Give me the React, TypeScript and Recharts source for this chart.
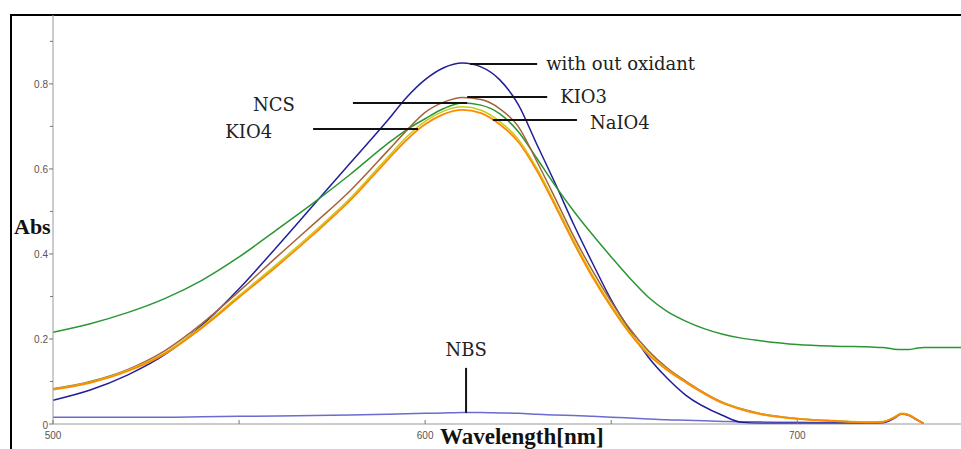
import React from "react";
import { Line, LineChart, ReferenceLine, XAxis, YAxis } from "recharts";

// wavelength grid (nm)
const wavelengths = [
  500, 510, 520, 530, 540, 550, 560, 570, 580, 590,
  595, 600, 605, 610, 615, 620, 625, 630, 635, 640,
  645, 650, 655, 660, 665, 670, 680, 685, 690, 700,
  710, 720, 723, 726, 728, 730, 732, 734, 740, 744,
];

const withoutOxidant = [
  0.056, 0.08, 0.115, 0.163, 0.232, 0.318, 0.415, 0.515, 0.615, 0.715,
  0.768, 0.81, 0.838, 0.849, 0.84, 0.81, 0.752, 0.658, 0.565, 0.468,
  0.378, 0.292, 0.22, 0.157, 0.108, 0.068, 0.02, 0.004, 0.002, 0.002,
  0.002, 0.002, 0.003, 0.014, 0.024, 0.021, 0.011, 0.001, null, null,
];

const ncs = [
  0.216, 0.236, 0.262, 0.295, 0.338, 0.393, 0.456, 0.52, 0.588, 0.66,
  0.692, 0.718, 0.742, 0.755, 0.75, 0.73, 0.688, 0.625, 0.56, 0.5,
  0.445, 0.393, 0.343, 0.298, 0.265, 0.242, 0.211, 0.202, 0.196, 0.187,
  0.183, 0.181, 0.18, 0.176, 0.175, 0.175, 0.178, 0.18, 0.18, 0.18,
];

const kio3 = [
  0.083, 0.1, 0.128, 0.172, 0.236, 0.312, 0.392, 0.47, 0.55, 0.643,
  0.69, 0.733, 0.757, 0.768, 0.763, 0.742, 0.7, 0.618, 0.53, 0.44,
  0.36, 0.288, 0.224, 0.172, 0.132, 0.101, 0.051, 0.036, 0.025, 0.013,
  0.007, 0.004, 0.005, 0.015, 0.024, 0.021, 0.011, 0.001, null, null,
];

const naio4 = [
  0.082, 0.098, 0.126, 0.167, 0.229, 0.302, 0.375, 0.451, 0.532, 0.628,
  0.675, 0.712, 0.736, 0.746, 0.738, 0.712, 0.67, 0.602, 0.518, 0.431,
  0.35, 0.28, 0.217, 0.166, 0.129, 0.099, 0.05, 0.035, 0.024, 0.013,
  0.008, 0.005, 0.006, 0.016, 0.025, 0.022, 0.012, 0.001, null, null,
];

const kio4 = [
  0.081, 0.097, 0.124, 0.165, 0.226, 0.298, 0.37, 0.446, 0.527, 0.622,
  0.668, 0.705, 0.729, 0.739, 0.731, 0.705, 0.664, 0.596, 0.512, 0.425,
  0.345, 0.275, 0.213, 0.163, 0.127, 0.098, 0.049, 0.034, 0.023, 0.012,
  0.007, 0.004, 0.005, 0.015, 0.024, 0.021, 0.011, 0.001, null, null,
];

const nbs = [
  0.016, 0.016, 0.016, 0.016, 0.017, 0.018, 0.019, 0.02, 0.021, 0.023,
  0.024, 0.025, 0.026, 0.027, 0.027, 0.026, 0.025, 0.023, 0.021, 0.02,
  0.018, 0.016, 0.014, 0.012, 0.01, 0.009, 0.006, 0.005, 0.005, 0.004,
  0.003, 0.002, 0.003, 0.013, 0.023, 0.02, 0.01, 0.001, null, null,
];

const xTicks = [500, 550, 600, 650, 700];
const xLabels = [500, 600, 700];
const yTicks = [0, 0.1, 0.2, 0.3, 0.4, 0.5, 0.6, 0.7, 0.8, 0.9];
const yLabels = [0, 0.2, 0.4, 0.6, 0.8];

// leader lines with their names
const notes = [
  { text: "with out oxidant", x1: 612.1, x2: 630.1, y1: 0.847, y2: 0.847, side: "right", gap: 9, dy: 0 },
  { text: "KIO3", x1: 611.3, x2: 632.8, y1: 0.769, y2: 0.769, side: "right", gap: 13, dy: -1 },
  { text: "NCS", x1: 580.6, x2: 611.3, y1: 0.755, y2: 0.755, side: "left", gap: 58, dy: 1 },
  { text: "KIO4", x1: 569.9, x2: 598.1, y1: 0.694, y2: 0.694, side: "left", gap: 41, dy: 3 },
  { text: "NaIO4", x1: 618.2, x2: 640.8, y1: 0.715, y2: 0.715, side: "right", gap: 13, dy: 2 },
  { text: "NBS", x1: 611.0, x2: 611.0, y1: 0.132, y2: 0.026, side: "top", gap: 18, dy: 0 },
];

const rows = wavelengths.map((wl, i) => ({
  wl,
  noOx: withoutOxidant[i],
  ncs: ncs[i],
  kio3: kio3[i],
  naio4: naio4[i],
  kio4: kio4[i],
  nbs: nbs[i],
}));

const tickFont = { fontFamily: "'Liberation Sans', Arial, sans-serif", fontSize: 10, fill: "#555" };

const XTick = ({ x, y, payload }: any) => (
  <g>
    <line x1={x} y1={y} x2={x} y2={y - 4} stroke="#777" />
    {xLabels.includes(payload.value) && (
      <text x={x} y={y + 11} textAnchor="middle" dominantBaseline="central" {...tickFont}>
        {payload.value}
      </text>
    )}
  </g>
);

const YTick = ({ x, y, payload }: any) => {
  const major = yLabels.some((v) => Math.abs(v - payload.value) < 1e-6);
  return (
    <g>
      <line x1={x - (major ? 4 : 3)} y1={y} x2={x} y2={y} stroke="#777" />
      {major && (
        <text x={x - 5} y={y + 1} textAnchor="end" dominantBaseline="central" {...tickFont}>
          {payload.value === 0 ? "0" : payload.value.toFixed(1)}
        </text>
      )}
    </g>
  );
};

const noteLabel = (n: any) => (props: any) => {
  const vb = props.viewBox || {};
  let x = vb.x;
  let y = vb.y + n.dy;
  let anchor = "start";
  if (n.side === "right") x = vb.x + vb.width + n.gap;
  if (n.side === "left") {
    x = vb.x - n.gap;
    anchor = "end";
  }
  if (n.side === "top") {
    y = vb.y - n.gap;
    anchor = "middle";
  }
  return (
    <text
      x={x}
      y={y}
      textAnchor={anchor}
      dominantBaseline="central"
      fontFamily="'DejaVu Serif', serif"
      fontSize={18}
      fill="#222"
    >
      {n.text}
    </text>
  );
};

const axisTitle = { fontFamily: "'Liberation Serif', 'Times New Roman', serif", fontWeight: 700, fill: "#111" };

const App = () => {
  return (
    <div style={{ position: "absolute", left: 0, top: 0, width: 961, height: 449, background: "#fff" }}>
      <div
        style={{
          position: "absolute",
          left: 10,
          top: 14,
          right: 0,
          bottom: 0,
          borderTop: "2px solid #000",
          borderLeft: "2px solid #000",
        }}
      />
      <LineChart
        width={961}
        height={449}
        data={rows}
        margin={{ top: 15, right: 0, bottom: 0, left: 0 }}
        style={{ position: "absolute", left: 0, top: 0 }}
      >
        <XAxis
          dataKey="wl"
          type="number"
          domain={[500, 744]}
          ticks={xTicks}
          allowDataOverflow
          height={25}
          tickSize={0}
          tickMargin={0}
          tickLine={false}
          axisLine={{ stroke: "#999" }}
          tick={<XTick />}
          label={{
            content: (p: any) => (
              <text x={p.viewBox.x + 387} y={p.viewBox.y + 20} fontSize={23} {...axisTitle}>
                Wavelength[nm]
              </text>
            ),
          }}
        />
        <YAxis
          type="number"
          domain={[0, 0.962]}
          ticks={yTicks}
          allowDataOverflow
          width={53}
          tickSize={0}
          tickMargin={0}
          tickLine={false}
          axisLine={{ stroke: "#999" }}
          tick={<YTick />}
          label={{
            content: (p: any) => (
              <text x={p.viewBox.x + 14} y={p.viewBox.y + p.viewBox.height / 2 + 14} fontSize={22} {...axisTitle}>
                Abs
              </text>
            ),
          }}
        />
        <Line type="monotone" dataKey="nbs" stroke="#6b6bd0" strokeWidth={1.5} dot={false} isAnimationActive={false} />
        <Line type="monotone" dataKey="noOx" stroke="#1f1f99" strokeWidth={1.5} dot={false} isAnimationActive={false} />
        <Line type="monotone" dataKey="ncs" stroke="#2a9632" strokeWidth={1.5} dot={false} isAnimationActive={false} />
        <Line type="monotone" dataKey="kio3" stroke="#a8623a" strokeWidth={1.5} dot={false} isAnimationActive={false} />
        <Line type="monotone" dataKey="naio4" stroke="#c5cc1a" strokeWidth={1.5} dot={false} isAnimationActive={false} />
        <Line type="monotone" dataKey="kio4" stroke="#ff8a00" strokeWidth={1.8} dot={false} isAnimationActive={false} />
        {notes.map((n) => (
          <ReferenceLine
            key={n.text}
            segment={[
              { x: n.x1, y: n.y1 },
              { x: n.x2, y: n.y2 },
            ]}
            stroke="#111"
            strokeWidth={2}
            label={{ content: noteLabel(n) }}
          />
        ))}
      </LineChart>
    </div>
  );
};

export default App;
